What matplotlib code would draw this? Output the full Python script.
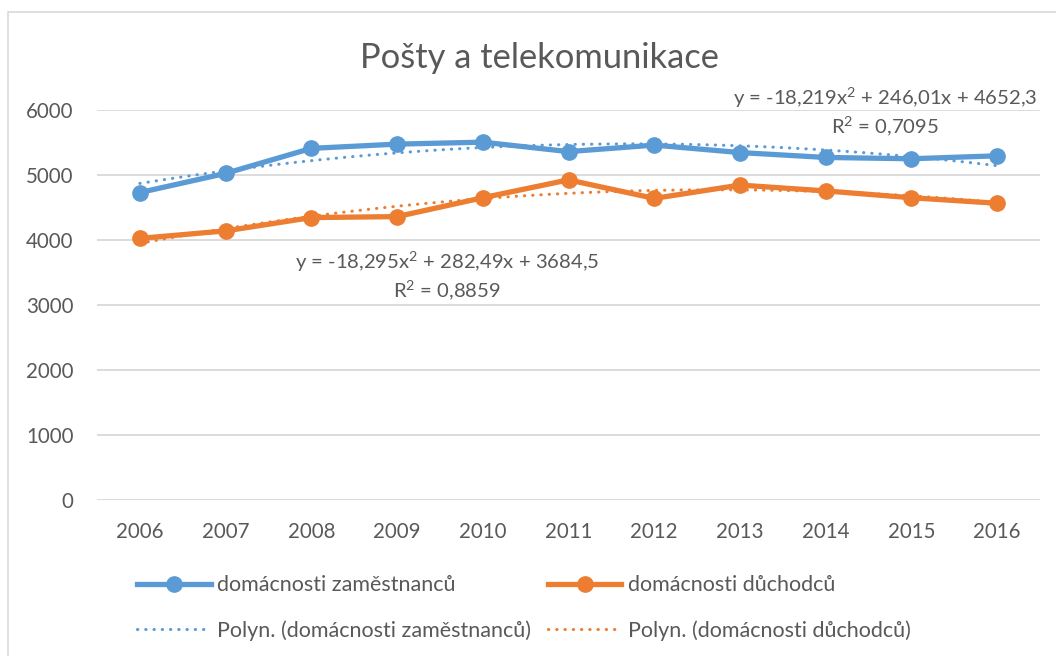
import numpy as np
import matplotlib.pyplot as plt
from matplotlib.patches import Rectangle

# ---------- data ----------
years = ["2006", "2007", "2008", "2009", "2010", "2011",
         "2012", "2013", "2014", "2015", "2016"]
zamestnanci = [4730, 5025, 5410, 5475, 5505, 5360, 5460, 5345, 5270, 5250, 5295]
duchodci = [4025, 4140, 4345, 4360, 4650, 4925, 4640, 4845, 4755, 4650, 4565]

title = "Pošty a telekomunikace"
name_zam = "domácnosti zaměstnanců"
name_duch = "domácnosti důchodců"
eq_zam = "y = -18,219x$^{2}$ + 246,01x + 4652,3\nR$^{2}$ = 0,7095"
eq_duch = "y = -18,295x$^{2}$ + 282,49x + 3684,5\nR$^{2}$ = 0,8859"

blue = "#5B9BD5"
orange = "#ED7D31"
text_col = "#595959"
grid_col = "#D9D9D9"

plt.rcParams['font.family'] = ['Lato', 'DejaVu Sans']
plt.rcParams['mathtext.fontset'] = 'custom'
plt.rcParams['mathtext.rm'] = 'Lato'

fig = plt.figure(figsize=(10.56, 6.56), dpi=100)
W, H = 1056, 656
ax = fig.add_axes([97 / W, 1 - 500 / H, (1040 - 97) / W, (500 - 110) / H])

# ramecek kolem grafu
fig.patches.append(Rectangle((8 / W, -0.1), 1.2, 1 - 12 / H + 0.1,
                             transform=fig.transFigure, fill=False,
                             edgecolor=grid_col, lw=1.2))

x = np.arange(len(years))
xn = x + 1  # Excel cisluje od 1

# ---------- trendlines (polynom 2. stupne) ----------
xf = np.linspace(xn[0], xn[-1], 200)
for vals, col in [(zamestnanci, blue), (duchodci, orange)]:
    coef = np.polyfit(xn, vals, 2)
    ax.plot(xf - 1, np.polyval(coef, xf), color=col, lw=2.2,
            dashes=(0.1, 2.6), dash_capstyle='round', zorder=4)

# ---------- hlavni rady ----------
l1, = ax.plot(x, zamestnanci, color=blue, lw=3.8, marker='o', ms=11, zorder=3)
l2, = ax.plot(x, duchodci, color=orange, lw=3.8, marker='o', ms=11, zorder=3)

ax.set_xlim(-0.5, len(years) - 0.5)
ax.set_ylim(0, 6000)
ax.set_yticks(range(0, 6001, 1000))
ax.set_xticks(x)
ax.set_xticklabels(years)
ax.yaxis.grid(True, color=grid_col, lw=1.3)
ax.set_axisbelow(True)
for s in ax.spines.values():
    s.set_visible(False)
ax.tick_params(length=0, labelsize=14.8, colors=text_col)
ax.tick_params(axis='y', pad=17)
ax.tick_params(axis='x', pad=16)

fig.text(539 / W, 1 - 58 / H, title, ha='center', va='center',
         fontsize=24.8, color=text_col)

fig.text(885 / W, 1 - 112 / H, eq_zam, fontsize=14.6,
         color=text_col, ha='center', va='center', linespacing=1.25)
fig.text(447 / W, 1 - 276 / H, eq_duch, fontsize=14.6,
         color=text_col, ha='center', va='center', linespacing=1.25)

# ---------- legenda ----------
h_p1 = plt.Line2D([], [], color=blue, lw=2.2, dashes=(0.1, 2.6), dash_capstyle='round')
h_p2 = plt.Line2D([], [], color=orange, lw=2.2, dashes=(0.1, 2.6), dash_capstyle='round')
leg = fig.legend([l1, h_p1, l2, h_p2],
                 [name_zam, "Polyn. (" + name_zam + ")",
                  name_duch, "Polyn. (" + name_duch + ")"],
                 ncol=2, loc='upper left', bbox_to_anchor=(118 / W, 1 - 556 / H),
                 frameon=False, fontsize=15.5, handlelength=3.4,
                 handletextpad=0.3, columnspacing=0.8, labelspacing=1.15,
                 labelcolor=text_col)

fig.savefig("out.png", dpi=100)
